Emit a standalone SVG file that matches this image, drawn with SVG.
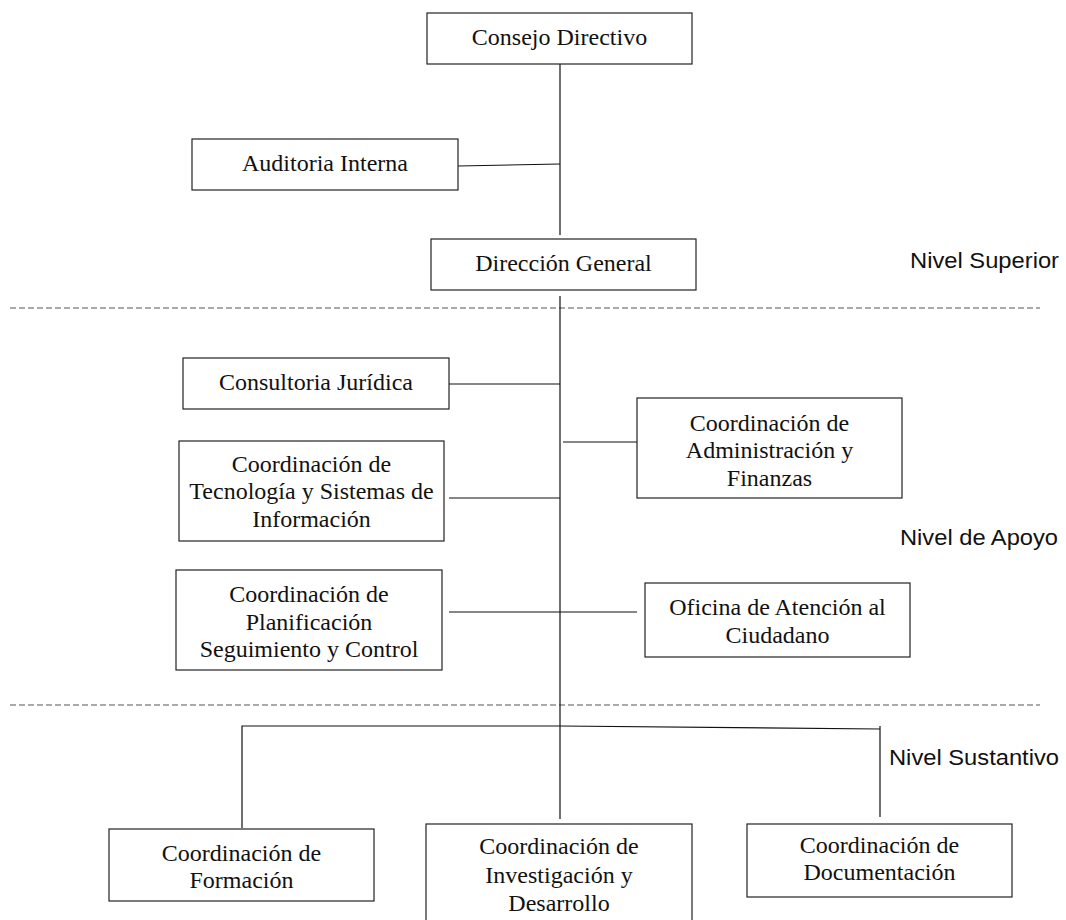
<svg xmlns="http://www.w3.org/2000/svg" width="1066" height="920" viewBox="0 0 1066 920">
<style>
.box{fill:#fff;stroke:#222;stroke-width:1.2}
.t{font-family:"Liberation Serif","Times New Roman",serif;font-size:24px;fill:#111;text-anchor:middle}
.lvl{font-family:"Liberation Sans",Arial,sans-serif;font-size:22px;fill:#111}
.ln{stroke:#111;stroke-width:1.2;fill:none}
.dash{stroke:#555;stroke-width:1;stroke-dasharray:6,3;fill:none}
</style>
<rect width="1066" height="920" fill="#fff"/>
<g id="separators">
<line class="dash" x1="10" y1="308" x2="1040" y2="308"/>
<line class="dash" x1="10" y1="705" x2="1040" y2="705"/>
</g>
<g id="connectors">
<line class="ln" x1="560" y1="64" x2="560" y2="235"/>
<line class="ln" x1="458" y1="166" x2="560" y2="164"/>
<line class="ln" x1="560" y1="296" x2="560" y2="819"/>
<line class="ln" x1="449" y1="384" x2="560" y2="384"/>
<line class="ln" x1="563" y1="442" x2="637" y2="442"/>
<line class="ln" x1="449" y1="498" x2="560" y2="498"/>
<line class="ln" x1="449" y1="612" x2="637" y2="612"/>
<polyline class="ln" points="242,828 242,726 560,726 880,729"/>
<line class="ln" x1="880" y1="726" x2="880" y2="817"/>
</g>
<g id="consejo"><rect class="box" x="427" y="13" width="265" height="51"/><text class="t" x="559.5" y="45">Consejo Directivo</text></g>
<g id="auditoria"><rect class="box" x="192" y="139" width="266" height="51"/><text class="t" x="325" y="171">Auditoria Interna</text></g>
<g id="direccion"><rect class="box" x="431" y="239" width="265" height="51"/><text class="t" x="563.5" y="271">Dirección General</text></g>
<g id="consultoria"><rect class="box" x="183" y="358" width="266" height="51"/><text class="t" x="316" y="390">Consultoria Jurídica</text></g>
<g id="administracion"><rect class="box" x="637" y="398" width="265" height="100"/><text class="t" x="769.5" y="431">Coordinación de</text><text class="t" x="769.5" y="458">Administración y</text><text class="t" x="769.5" y="486">Finanzas</text></g>
<g id="tecnologia"><rect class="box" x="179" y="441" width="265" height="100"/><text class="t" x="311.5" y="472">Coordinación de</text><text class="t" x="311.5" y="499">Tecnología y Sistemas de</text><text class="t" x="311.5" y="527">Información</text></g>
<g id="planificacion"><rect class="box" x="176" y="570" width="266" height="100"/><text class="t" x="309" y="602">Coordinación de</text><text class="t" x="309" y="630">Planificación</text><text class="t" x="309" y="657">Seguimiento y Control</text></g>
<g id="oficina"><rect class="box" x="645" y="583" width="265" height="74"/><text class="t" x="777.5" y="615">Oficina de Atención al</text><text class="t" x="777.5" y="643">Ciudadano</text></g>
<g id="formacion"><rect class="box" x="109" y="829" width="265" height="72"/><text class="t" x="241.5" y="861">Coordinación de</text><text class="t" x="241.5" y="888">Formación</text></g>
<g id="investigacion"><rect class="box" x="426" y="824" width="266" height="100"/><text class="t" x="559" y="854">Coordinación de</text><text class="t" x="559" y="883">Investigación y</text><text class="t" x="559" y="911">Desarrollo</text></g>
<g id="documentacion"><rect class="box" x="747" y="824" width="265" height="73"/><text class="t" x="879.5" y="853">Coordinación de</text><text class="t" x="879.5" y="880">Documentación</text></g>
<g id="levels">
<text class="lvl" x="910" y="268" textLength="149" lengthAdjust="spacingAndGlyphs">Nivel Superior</text>
<text class="lvl" x="900" y="545" textLength="158" lengthAdjust="spacingAndGlyphs">Nivel de Apoyo</text>
<text class="lvl" x="889" y="765" textLength="170" lengthAdjust="spacingAndGlyphs">Nivel Sustantivo</text>
</g>
</svg>
